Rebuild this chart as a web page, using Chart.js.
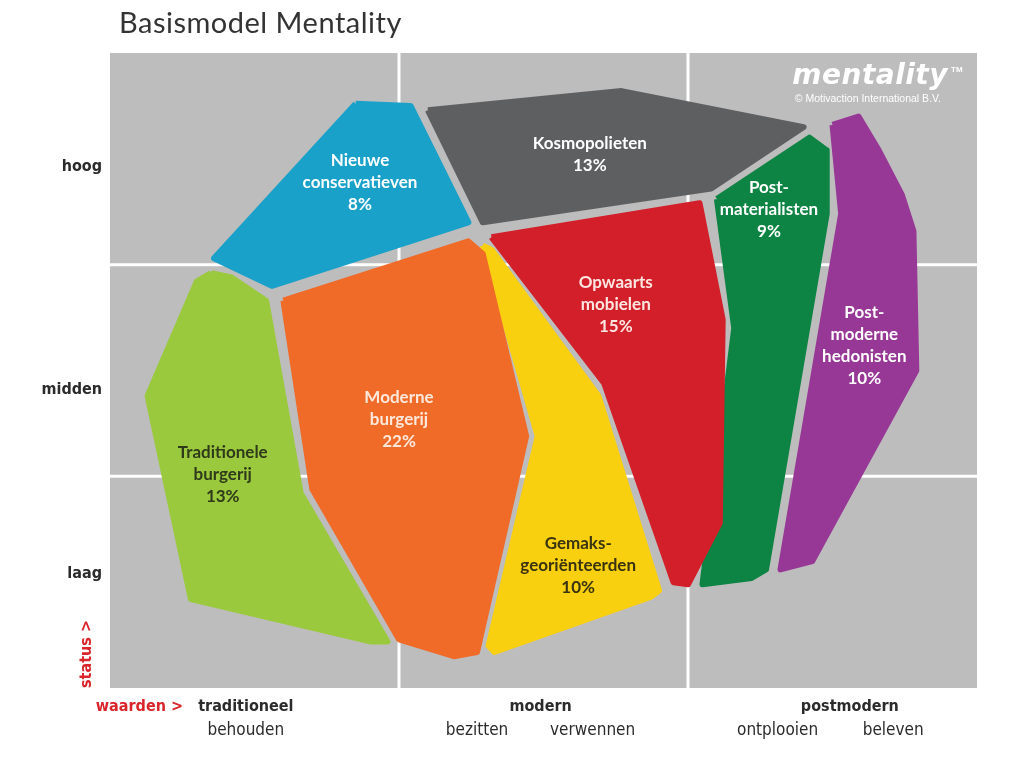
<!DOCTYPE html>
<html>
<head>
<meta charset="utf-8">
<script src="https://cdn.jsdelivr.net/npm/chart.js@4.4.1/dist/chart.umd.min.js"></script>
<style>
  html, body { margin: 0; padding: 0; background: #fff; }
  #wrap { width: 1024px; height: 771px; position: relative; }
</style>
</head>
<body>
<div id="wrap"><canvas id="mentalityChart"></canvas></div>
<script>
// --- Axes: waarden (x, 0..3) and status (y, 0..3) ---
const gridX = [1, 2];
const gridY = [1, 2];
const yLabels = ['laag', 'midden', 'hoog'];
const yLabelPos = [0.54, 1.41, 2.46];
const xMainLabels = ['traditioneel', 'modern', 'postmodern'];
const xMainPos = [0.47, 1.49, 2.56];
const xSubLabels = ['behouden', 'bezitten', 'verwennen', 'ontplooien', 'beleven'];
const xSubPos = [0.47, 1.27, 1.67, 2.31, 2.71];

// --- Segments: name lines, share, colour, outline vertices (waarden, status) ---
const segNames = [
  ['Nieuwe', 'conservatieven'],
  ['Kosmopolieten'],
  ['Opwaarts', 'mobielen'],
  ['Post-', 'materialisten'],
  ['Post-', 'moderne', 'hedonisten'],
  ['Moderne', 'burgerij'],
  ['Traditionele', 'burgerij'],
  ['Gemaks-', 'georiënteerden']
];
const segShare = [8, 13, 15, 9, 10, 22, 13, 10];
const segColors = ['#19a1c9', '#5e5f61', '#d21f29', '#0d8443', '#973896', '#f06a28', '#9bc93e', '#f8d00f'];
const segTextColors = ['#ffffff', '#ffffff', '#fde6e2', '#ffffff', '#ffffff', '#fde8dc', '#2f3a1a', '#3a3310'];
const segLabelAt = [[0.865, 2.39], [1.66, 2.52], [1.75, 1.81], [2.28, 2.26], [2.61, 1.62], [1.00, 1.27], [0.39, 1.01], [1.62, 0.58]];

const nieuweConservatieven = [[0.85, 2.76], [1.04, 2.75], [1.24, 2.20], [0.56, 1.90], [0.36, 2.03]];
const kosmopolieten = [[1.10, 2.73], [1.77, 2.82], [2.40, 2.65], [2.08, 2.36], [1.29, 2.20]];
const opwaartsMobielen = [[1.32, 2.13], [2.04, 2.29], [2.12, 1.74], [2.11, 0.78], [2.00, 0.49], [1.95, 0.50], [1.71, 1.44]];
const postMaterialisten = [[2.10, 2.31], [2.42, 2.60], [2.48, 2.54], [2.48, 2.24], [2.27, 0.56], [2.22, 0.52], [2.05, 0.49], [2.16, 1.70]];
const postModerneHedonisten = [[2.50, 2.66], [2.59, 2.70], [2.66, 2.54], [2.74, 2.33], [2.78, 2.16], [2.79, 1.50], [2.43, 0.60], [2.32, 0.56], [2.53, 2.24]];
const moderneBurgerij = [[0.60, 1.83], [1.24, 2.11], [1.29, 2.05], [1.44, 1.19], [1.27, 0.17], [1.19, 0.15], [1.00, 0.23], [0.70, 0.94], [0.61, 1.74]];
const traditioneleBurgerij = [[0.35, 1.96], [0.42, 1.94], [0.54, 1.83], [0.66, 0.92], [0.96, 0.22], [0.90, 0.22], [0.28, 0.42], [0.13, 1.38], [0.30, 1.92]];
const gemaksgeorienteerden = [[1.29, 2.09], [1.32, 2.07], [1.69, 1.38], [1.90, 0.46], [1.87, 0.43], [1.33, 0.17], [1.31, 0.20], [1.48, 1.19]];

const segShapes = [nieuweConservatieven, kosmopolieten, opwaartsMobielen, postMaterialisten,
  postModerneHedonisten, moderneBurgerij, traditioneleBurgerij, gemaksgeorienteerden];

const FONT_SEG = 'Lato, "Open Sans", sans-serif';
const FONT_AX = '"DejaVu Sans Condensed", "Liberation Sans Narrow", "DejaVu Sans", sans-serif';

// grey field + white quadrant lines, through the scales
const fieldPlugin = {
  id: 'field',
  beforeDatasetsDraw(chart) {
    const { ctx, chartArea: a, scales: { x, y } } = chart;
    ctx.save();
    ctx.fillStyle = '#bebdbd';
    ctx.fillRect(a.left, a.top, a.width, a.height);
    ctx.strokeStyle = '#ffffff';
    ctx.lineWidth = 3;
    gridX.forEach(v => {
      const p = x.getPixelForValue(v);
      ctx.beginPath(); ctx.moveTo(p, a.top); ctx.lineTo(p, a.bottom); ctx.stroke();
    });
    gridY.forEach(v => {
      const p = y.getPixelForValue(v);
      ctx.beginPath(); ctx.moveTo(a.left, p); ctx.lineTo(a.right, p); ctx.stroke();
    });
    ctx.restore();
  }
};

// segment names, axis texts, title and logo
const textPlugin = {
  id: 'texts',
  afterDatasetsDraw(chart) {
    const { ctx, chartArea: a, scales: { x, y } } = chart;
    ctx.save();
    ctx.textAlign = 'center';
    ctx.textBaseline = 'middle';
    ctx.font = 'bold 17px ' + FONT_SEG;
    segNames.forEach((lines, i) => {
      const all = lines.concat([segShare[i] + '%']);
      const cx = x.getPixelForValue(segLabelAt[i][0]);
      const cy = y.getPixelForValue(segLabelAt[i][1]);
      ctx.fillStyle = segTextColors[i];
      all.forEach((t, k) => ctx.fillText(t, cx, cy + (k - (all.length - 1) / 2) * 22));
    });

    // status axis
    ctx.fillStyle = '#2b2b2b';
    ctx.textAlign = 'right';
    ctx.font = 'bold 16px ' + FONT_AX;
    yLabels.forEach((t, i) => ctx.fillText(t, a.left - 8, y.getPixelForValue(yLabelPos[i])));

    // waarden axis
    ctx.textAlign = 'center';
    xMainLabels.forEach((t, i) => ctx.fillText(t, x.getPixelForValue(xMainPos[i]), a.bottom + 19));
    ctx.font = '17px ' + FONT_AX;
    xSubLabels.forEach((t, i) => ctx.fillText(t, x.getPixelForValue(xSubPos[i]), a.bottom + 43));

    ctx.fillStyle = '#d9252b';
    ctx.font = 'bold 16px ' + FONT_AX;
    ctx.textAlign = 'right';
    ctx.fillText('waarden >', a.left + 73, a.bottom + 19);
    ctx.save();
    ctx.translate(a.left - 23, a.bottom - 34);
    ctx.rotate(-Math.PI / 2);
    ctx.textAlign = 'center';
    ctx.fillText('status >', 0, 0);
    ctx.restore();

    // title
    ctx.fillStyle = '#333333';
    ctx.textAlign = 'left';
    ctx.textBaseline = 'alphabetic';
    ctx.font = '29px ' + FONT_SEG;
    ctx.letterSpacing = '0.5px';
    ctx.fillText('Basismodel Mentality', 119, 33);

    // logo
    ctx.fillStyle = '#ffffff';
    ctx.textAlign = 'right';
    ctx.font = 'italic bold 28px "DejaVu Sans", sans-serif';
    ctx.letterSpacing = '0.5px';
    ctx.fillText('mentality', 948, 84);
    ctx.letterSpacing = '0px';
    ctx.font = 'bold 8px "Liberation Sans", Arial, sans-serif';
    ctx.textAlign = 'left';
    ctx.fillText('TM', 951, 72);
    ctx.font = '10.5px "Liberation Sans", Arial, sans-serif';
    ctx.textAlign = 'right';
    ctx.fillText('© Motivaction International B.V.', 941, 102);
    ctx.restore();
  }
};

const ctx = document.getElementById('mentalityChart').getContext('2d');
new Chart(ctx, {
  type: 'scatter',
  data: {
    datasets: segShapes.map((pts, i) => ({
      label: segNames[i].join(' '),
      data: pts.concat([pts[0]]).map(p => ({ x: p[0], y: p[1] })),
      showLine: true,
      fill: 'shape',
      backgroundColor: segColors[i],
      borderColor: segColors[i],
      borderWidth: 6,
      borderJoinStyle: 'round',
      tension: 0,
      pointRadius: 0,
      pointHoverRadius: 0
    }))
  },
  options: {
    responsive: true,
    maintainAspectRatio: false,
    animation: false,
    layout: { padding: { left: 110, right: 47, top: 53, bottom: 83 } },
    plugins: { legend: { display: false }, tooltip: { enabled: false } },
    scales: {
      x: { type: 'linear', min: 0, max: 3, display: false },
      y: { type: 'linear', min: 0, max: 3, display: false }
    }
  },
  plugins: [fieldPlugin, textPlugin]
});
</script>
</body>
</html>
